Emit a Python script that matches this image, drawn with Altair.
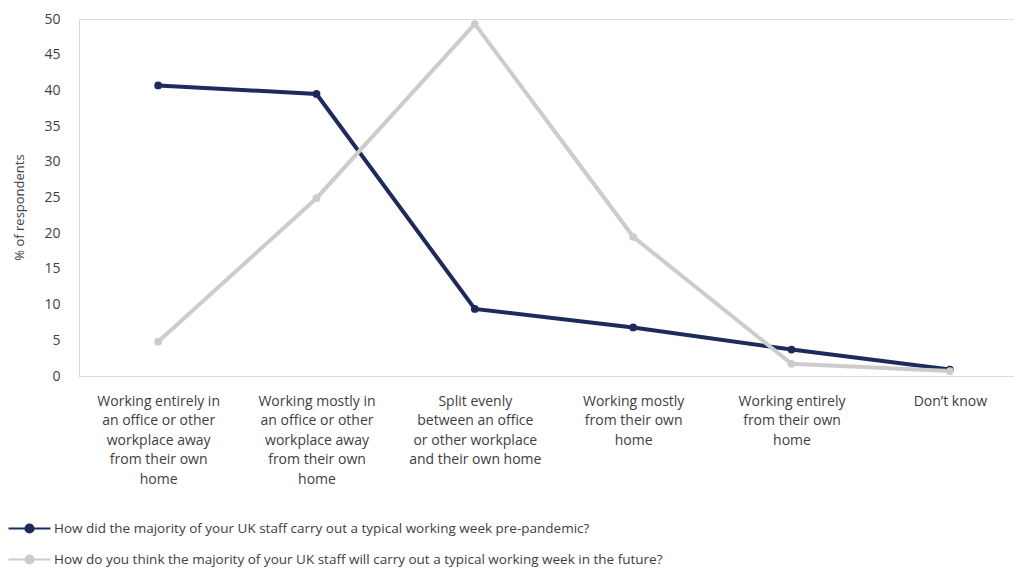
import altair as alt
import pandas as pd

categories = [
    "Working entirely in\nan office or other\nworkplace away\nfrom their own\nhome",
    "Working mostly in\nan office or other\nworkplace away\nfrom their own\nhome",
    "Split evenly\nbetween an office\nor other workplace\nand their own home",
    "Working mostly\nfrom their own\nhome",
    "Working entirely\nfrom their own\nhome",
    "Don\u2019t know",
]
series_names = [
    "How did the majority of your UK staff carry out a typical working week pre-pandemic?",
    "How do you think the majority of your UK staff will carry out a typical working week in the future?",
]
pre_pandemic = [40.7, 39.5, 9.4, 6.8, 3.7, 0.9]
future = [4.8, 24.9, 49.3, 19.5, 1.7, 0.7]
y_ticks = [0, 5, 10, 15, 20, 25, 30, 35, 40, 45, 50]

NAVY = "#1d2a5b"
GRAY = "#cccccc"
TEXT = "#404040"
FONT = "Open Sans"

rows = []
for name, vals in zip(series_names, [pre_pandemic, future]):
    for c, v in zip(categories, vals):
        rows.append({"category": c, "series": name, "value": v})
df = pd.DataFrame(rows)

color = alt.Color(
    "series:N",
    scale=alt.Scale(domain=series_names, range=[NAVY, GRAY]),
    sort=series_names,
    legend=alt.Legend(
        title=None,
        orient="none",
        legendX=-72,
        legendY=487,
        direction="vertical",
        symbolType="M-1,0H1M-0.19,0A0.19,0.19 0 1,1 0.19,0A0.19,0.19 0 1,1 -0.19,0",
        symbolSize=1764,
        symbolStrokeWidth=2.2,
        labelFont=FONT,
        labelFontSize=13.5,
        labelColor=TEXT,
        labelOffset=2,
        labelLimit=0,
        rowPadding=-7,
    ),
)

x = alt.X(
    "category:N",
    sort=categories,
    scale=alt.Scale(type="point", padding=0.5, range=[0, 950]),
    axis=alt.Axis(
        title=None,
        labelAngle=0,
        labelExpr="split(datum.value, '\\n')",
        labelFont=FONT,
        labelFontSize=14,
        labelColor=TEXT,
        labelLineHeight=19.5,
        labelLimit=0,
        labelPadding=18,
        ticks=False,
        domainColor="#d9d9d9",
        domainWidth=1,
    ),
)
y = alt.Y(
    "value:Q",
    scale=alt.Scale(domain=[0, 50], nice=False),
    axis=alt.Axis(
        title="% of respondents",
        values=y_ticks,
        grid=False,
        ticks=False,
        labelFont=FONT,
        labelFontSize=14,
        labelColor=TEXT,
        labelPadding=19,
        domainColor="#d9d9d9",
        titleFont=FONT,
        titleFontSize=13,
        titleFontWeight="normal",
        titleColor=TEXT,
        titleX=-53,
        titleY=188,
    ),
)

base = alt.Chart(df).encode(x=x, y=y, color=color)
lines = base.mark_line(strokeWidth=4)
points = base.mark_point(filled=True, size=60, opacity=1)

chart = (
    alt.layer(lines, points)
    .properties(
        width=935,
        height=357,
        autosize=alt.AutoSizeParams(type="none"),
        padding={"left": 71, "top": 11, "right": 0, "bottom": 196},
    )
    .configure_view(stroke=None)
    .configure(background="white")
)

chart.save("out.html", embed_options={"renderer": "svg", "actions": False})
